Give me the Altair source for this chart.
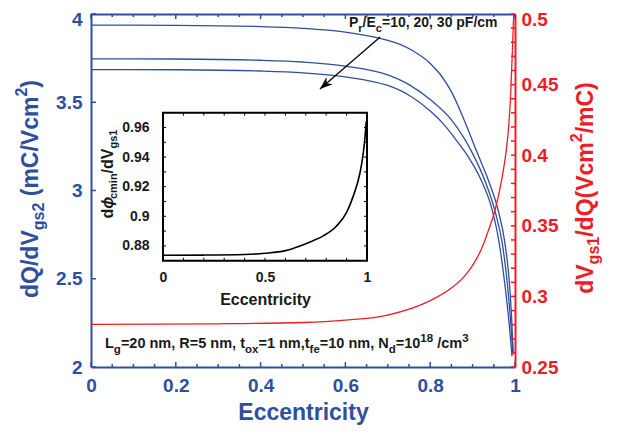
import altair as alt
import pandas as pd

# ---------------- data ----------------
E_C1 = [0, 0.2, 0.4, 0.5, 0.6, 0.7, 0.729, 0.76, 0.8, 0.823, 0.85, 0.88, 0.91, 0.94, 0.961, 0.975, 0.987, 0.992, 0.996]
V_C1 = [3.937, 3.936, 3.929, 3.919, 3.897, 3.85, 3.828, 3.79, 3.72, 3.66, 3.56, 3.40, 3.219, 3.04, 2.882, 2.72, 2.47, 2.28, 2.07]
E_C2 = [0, 0.2, 0.4, 0.5, 0.6, 0.7, 0.75, 0.8, 0.85, 0.898, 0.93, 0.953, 0.97, 0.982, 0.99, 0.995]
V_C2 = [3.746, 3.745, 3.738, 3.728, 3.705, 3.655, 3.60, 3.515, 3.40, 3.219, 3.05, 2.882, 2.70, 2.47, 2.25, 2.08]
E_C3 = [0, 0.2, 0.4, 0.5, 0.6, 0.7, 0.729, 0.75, 0.8, 0.83, 0.86, 0.89, 0.92, 0.945, 0.96, 0.976, 0.986, 0.993]
V_C3 = [3.685, 3.684, 3.677, 3.667, 3.644, 3.595, 3.567, 3.54, 3.45, 3.38, 3.29, 3.19, 3.06, 2.90, 2.74, 2.47, 2.25, 2.06]

E_RED = [0, 0.3, 0.5, 0.6, 0.7, 0.8, 0.85, 0.88, 0.9, 0.92, 0.94, 0.95, 0.96, 0.97, 0.98, 0.985, 0.99, 0.994, 0.997]
V_RED = [0.2802, 0.2806, 0.2815, 0.2832, 0.2868, 0.297, 0.306, 0.314, 0.322, 0.333, 0.349, 0.358, 0.370, 0.385, 0.405, 0.42, 0.445, 0.475, 0.50]

E_INSET = [0, 0.2, 0.4, 0.5, 0.6, 0.672, 0.73, 0.786, 0.851, 0.9, 0.933, 0.966, 0.98, 0.99, 0.996]
V_INSET = [0.8737, 0.8738, 0.8742, 0.8750, 0.8768, 0.880, 0.8832, 0.8868, 0.8935, 0.9026, 0.9138, 0.9296, 0.941, 0.953, 0.964]

X_LABELS = [0, 0.2, 0.4, 0.6, 0.8, 1]
X_MINOR = [0.05, 0.1, 0.15, 0.25, 0.3, 0.35, 0.45, 0.5, 0.55, 0.65, 0.7, 0.75, 0.85, 0.9, 0.95]
Y_LEFT = [2, 2.5, 3, 3.5, 4]
Y_RIGHT = [0.25, 0.3, 0.35, 0.4, 0.45, 0.5]
Y_RIGHT_MINOR = [0.26, 0.27, 0.28, 0.29, 0.31, 0.32, 0.33, 0.34, 0.36, 0.37, 0.38, 0.39,
                 0.41, 0.42, 0.43, 0.44, 0.46, 0.47, 0.48, 0.49]
INSET_X_LABELS = [0, 0.5, 1]
INSET_X_TICKS = [0.1, 0.2, 0.3, 0.4, 0.5, 0.6, 0.7, 0.8, 0.9]
INSET_Y_LABELS = [0.88, 0.9, 0.92, 0.94, 0.96]
INSET_Y_TICKS = [0.88, 0.89, 0.9, 0.91, 0.92, 0.93, 0.94, 0.95, 0.96]

# ---------------- styling ----------------
W, H = 424, 353
BLUE = "#2E4E9E"
RED = "#EE1C25"
BLACK = "#1a1a1a"
FONT = "Liberation Sans"

AW = {' ': .278, '(': .333, ')': .333, ',': .278, '.': .278, '/': .278, '=': .584,
      'C': .722, 'E': .667, 'F': .611, 'L': .611, 'N': .722, 'P': .667, 'Q': .778, 'R': .722, 'V': .667,
      'c': .556, 'd': .611, 'e': .556, 'f': .333, 'g': .611, 'i': .278, 'm': .889, 'n': .611, 'o': .611,
      'p': .611, 'r': .389, 's': .556, 't': .333, 'x': .556, 'ϕ': .60}


def tw(s, size):
    return sum(AW.get(c, .556) for c in s) * size


def txt(t, x, y, size, color, angle=0, align="left", baseline="alphabetic", style="normal"):
    return alt.Chart(alt.Data(values=[{}])).mark_text(
        text=t, font=FONT, fontSize=size, fontWeight="bold", color=color, fontStyle=style,
        angle=angle, align=align, baseline=baseline
    ).encode(x=alt.value(x), y=alt.value(y))


def run(parts, x0, y0, color, rotated=False, center=None):
    total = sum(tw(p[0], p[1]) for p in parts)
    out = []
    pos = (center + total / 2) if rotated else x0
    for p in parts:
        t, s, sh = p[0], p[1], p[2]
        style = p[3] if len(p) > 3 else "normal"
        lead = len(t) - len(t.lstrip())
        off = lead * AW[' '] * s
        if rotated:
            out.append(txt(t.lstrip(), x0 + sh, pos - off, s, color, angle=270, style=style))
            pos -= tw(t, s)
        else:
            out.append(txt(t.lstrip(), pos + off, y0 + sh, s, color, style=style))
            pos += tw(t, s)
    return out


# ---------------- scales ----------------
IN_TOP, IN_BOT = 98.7, 246.7
xs = alt.Scale(domain=[0, 1], nice=False, zero=False)
ysl = alt.Scale(domain=[2, 4], nice=False, zero=False)
ysr = alt.Scale(domain=[0.25, 0.5], nice=False, zero=False)
ixs = alt.Scale(domain=[0, 1], range=[72, 276], nice=False, zero=False)
iys = alt.Scale(domain=[0.87, 0.97], range=[IN_BOT, IN_TOP], nice=False, zero=False)

# ---------------- main (left / blue) ----------------
blue_df = pd.concat([
    pd.DataFrame({"e": E_C1, "v": V_C1, "s": "c1"}),
    pd.DataFrame({"e": E_C2, "v": V_C2, "s": "c2"}),
    pd.DataFrame({"e": E_C3, "v": V_C3, "s": "c3"}),
])

blue_lines = alt.Chart(blue_df).mark_line(color=BLUE, strokeWidth=1.3, interpolate="monotone").encode(
    x=alt.X("e:Q", scale=xs, axis=alt.Axis(
        orient="bottom", values=X_LABELS, format="~g", labelFlush=False, labelOverlap=False,
        labelFont=FONT, labelFontSize=19, labelFontWeight="bold", labelColor=BLUE, labelPadding=9,
        ticks=False, tickSize=0, grid=False, domainColor=BLUE, domainWidth=2,
        title="Eccentricity", titleFont=FONT, titleFontSize=23, titleFontWeight="bold",
        titleColor=BLUE, titlePadding=6)),
    y=alt.Y("v:Q", scale=ysl, axis=alt.Axis(
        orient="left", values=Y_LEFT, format="~g", labelFont=FONT, labelFontSize=19,
        labelFontWeight="bold", labelColor=BLUE, labelPadding=9, ticks=False, tickSize=0,
        labelOffset={"condition": {"test": "datum.value == 4", "value": 5}, "value": 0},
        grid=False, domainColor=BLUE, domainWidth=2, title=None)),
    detail="s:N",
)


def vticks(vals, scale, color, y0, y1):
    return alt.Chart(pd.DataFrame({"t": vals})).mark_rule(color=color, strokeWidth=1.5).encode(
        x=alt.X("t:Q", scale=scale, axis=None), y=alt.value(y0), y2=alt.value(y1))


def hticks(vals, scale, color, x0, x1):
    return alt.Chart(pd.DataFrame({"t": vals})).mark_rule(color=color, strokeWidth=1.5).encode(
        y=alt.Y("t:Q", scale=scale, axis=None), x=alt.value(x0), x2=alt.value(x1))


arrow_df = pd.DataFrame({"e": [0.682, 0.540], "v": [3.870, 3.575]})
arrow_line = alt.Chart(arrow_df).mark_line(color="black", strokeWidth=1.3).encode(
    x=alt.X("e:Q", scale=xs, axis=None), y=alt.Y("v:Q", scale=ysl, axis=None))
arrow_head = alt.Chart(arrow_df.iloc[[1]]).mark_point(
    shape="M0,0L0.6,1.6L0,1.1L-0.6,1.6Z", filled=True, color="black", opacity=1,
    size=256, angle=229, strokeWidth=0).encode(
    x=alt.X("e:Q", scale=xs, axis=None), y=alt.Y("v:Q", scale=ysl, axis=None))

# ---------------- right / red ----------------
red_line = alt.Chart(pd.DataFrame({"e": E_RED, "v": V_RED})).mark_line(
    color=RED, strokeWidth=1.3, interpolate="monotone").encode(
    x=alt.X("e:Q", scale=xs, axis=alt.Axis(orient="top", labels=False, ticks=False, tickSize=0,
                                           grid=False, domainColor=BLUE, domainWidth=2, title=None)),
    y=alt.Y("v:Q", scale=ysr, axis=alt.Axis(
        orient="right", values=Y_RIGHT, format="~g", labelFont=FONT, labelFontSize=19,
        labelFontWeight="bold", labelColor=RED, labelPadding=6, ticks=False, tickSize=0,
        labelOffset={"condition": {"test": "datum.value == 0.5", "value": 5}, "value": 0},
        grid=False, domainColor=RED, domainWidth=2, title=None)),
)

# ---------------- inset ----------------
inset_box = alt.Chart(alt.Data(values=[{}])).mark_rect(
    fill="white", stroke="black", strokeWidth=2).encode(
    x=alt.X(datum=0, type="quantitative", scale=ixs, axis=None),
    x2=alt.datum(1),
    y=alt.Y(datum=0.87, type="quantitative", scale=iys, axis=None),
    y2=alt.datum(0.97),
)


def ivt(vals, y0, y1):
    return alt.Chart(pd.DataFrame({"t": vals})).mark_rule(color="black", strokeWidth=1).encode(
        x=alt.X("t:Q", scale=ixs, axis=None),
        y=alt.Y(datum=y0, type="quantitative", scale=iys, axis=None), y2=alt.datum(y1))


def iht(vals, x0, x1):
    return alt.Chart(pd.DataFrame({"t": vals})).mark_rule(color="black", strokeWidth=1).encode(
        y=alt.Y("t:Q", scale=iys, axis=None),
        x=alt.X(datum=x0, type="quantitative", scale=ixs, axis=None), x2=alt.datum(x1))


inset_line = alt.Chart(pd.DataFrame({"e": E_INSET, "v": V_INSET})).mark_line(
    color="black", strokeWidth=1.6, interpolate="monotone").encode(
    x=alt.X("e:Q", scale=ixs, axis=alt.Axis(
        orient="bottom", offset=-(H - IN_BOT), values=INSET_X_LABELS, format="~g",
        labelFlush=False, labelFont=FONT, labelFontSize=14, labelFontWeight="bold",
        labelColor=BLACK, labelPadding=10, domain=False, ticks=False, tickSize=0, grid=False,
        title="Eccentricity", titleFont=FONT, titleFontSize=16, titleFontWeight="bold",
        titleColor=BLACK, titlePadding=7)),
    y=alt.Y("v:Q", scale=iys, axis=alt.Axis(
        orient="left", offset=-72, values=INSET_Y_LABELS, format="~g",
        labelFont=FONT, labelFontSize=14, labelFontWeight="bold", labelColor=BLACK,
        labelPadding=14, domain=False, ticks=False, tickSize=0, grid=False, title=None)),
)

# ---------------- texts ----------------
texts = []
texts += run([("dQ/dV", 23, 0), ("gs2", 16, 6), (" (mC/Vcm", 23, 0), ("2", 16, -11), (")", 23, 0)],
             -53, 0, BLUE, rotated=True, center=175)
texts += run([("dV", 23, 0), ("gs1", 16, 6), ("/dQ(Vcm", 23, 0), ("2", 16, -11), ("/mC)", 23, 0)],
             502, 0, RED, rotated=True, center=174)
texts += run([("d", 16, 0), ("ϕ", 16, 0, "italic"), ("cmin", 11, 4), ("/dV", 16, 0), ("gs1", 11, 4)],
             22, 0, BLACK, rotated=True, center=160)
texts += run([("P", 14, 0), ("r", 11, 5), ("/E", 14, 0), ("c", 11, 5), ("=10, 20, 30 pF/cm", 14, 0)],
             258, 13, BLACK)
texts += run([("L", 14.5, 0), ("g", 11.5, 5), ("=20 nm, R=5 nm, t", 14.5, 0), ("ox", 11.5, 5),
              ("=1 nm,t", 14.5, 0), ("fe", 11.5, 5), ("=10 nm, N", 14.5, 0), ("d", 11.5, 5),
              ("=10", 14.5, 0), ("18", 11.5, -6), (" /cm", 14.5, 0), ("3", 11.5, -6)],
             14, 334, BLACK)

layers = [
    blue_lines, red_line,
    vticks(X_LABELS, xs, BLUE, H, H - 5), vticks(X_MINOR, xs, BLUE, H, H - 3),
    vticks(X_LABELS, xs, BLUE, 0, 5), vticks(X_MINOR, xs, BLUE, 0, 3),
    hticks(Y_LEFT, ysl, BLUE, 0, 5),
    hticks(Y_RIGHT, ysr, RED, W, W - 4), hticks(Y_RIGHT_MINOR, ysr, RED, W, W - 4),
    inset_box,
    ivt(INSET_X_TICKS, 0.87, 0.872), ivt(INSET_X_TICKS, 0.97, 0.968),
    iht(INSET_Y_TICKS, 0, 0.015), iht(INSET_Y_TICKS, 1, 0.985),
    inset_line,
    arrow_line, arrow_head,
] + texts

chart = alt.layer(*layers).resolve_scale(
    x="independent", y="independent"
).properties(
    width=W, height=H,
    autosize=alt.AutoSizeParams(type="none"),
    padding={"left": 83, "top": 6, "right": 95, "bottom": 59},
).configure_view(stroke=None).configure(background="white")

chart.save("out.html", embed_options={"renderer": "svg", "actions": False})
